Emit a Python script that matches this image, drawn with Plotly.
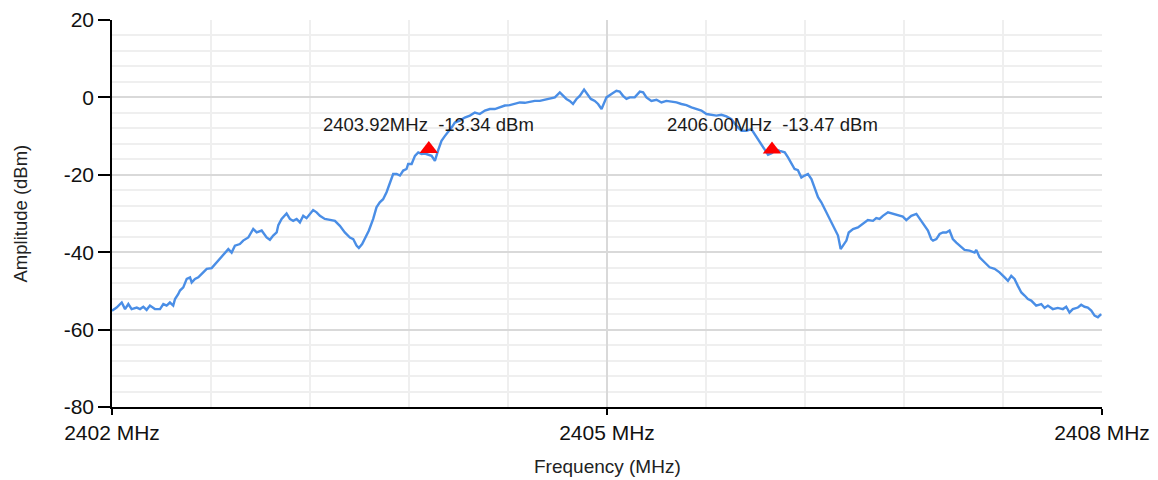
import plotly.graph_objects as go

# Spectrum sweep: frequency (MHz) and measured amplitude (dBm)
freq_mhz = [
    2402.000, 2402.028, 2402.059, 2402.079, 2402.099, 2402.119, 2402.150, 2402.170,
    2402.190, 2402.210, 2402.230, 2402.260, 2402.291, 2402.311, 2402.331, 2402.351,
    2402.371, 2402.382, 2402.402, 2402.412, 2402.432, 2402.453, 2402.473, 2402.483,
    2402.503, 2402.523, 2402.553, 2402.574, 2402.604, 2402.634, 2402.665, 2402.685,
    2402.705, 2402.725, 2402.745, 2402.775, 2402.795, 2402.826, 2402.856, 2402.877,
    2402.907, 2402.937, 2402.957, 2402.977, 2402.998, 2403.008, 2403.028, 2403.058,
    2403.078, 2403.098, 2403.119, 2403.139, 2403.159, 2403.179, 2403.199, 2403.219,
    2403.240, 2403.260, 2403.290, 2403.321, 2403.351, 2403.381, 2403.411, 2403.442,
    2403.462, 2403.482, 2403.496, 2403.516, 2403.537, 2403.557, 2403.583, 2403.603,
    2403.623, 2403.643, 2403.664, 2403.684, 2403.704, 2403.725, 2403.745, 2403.765,
    2403.785, 2403.795, 2403.816, 2403.836, 2403.856, 2403.876, 2403.896, 2403.937,
    2403.957, 2403.977, 2403.997, 2404.017, 2404.037, 2404.058, 2404.078, 2404.108,
    2404.138, 2404.169, 2404.199, 2404.229, 2404.260, 2404.290, 2404.320, 2404.350,
    2404.381, 2404.411, 2404.441, 2404.472, 2404.502, 2404.532, 2404.562, 2404.593,
    2404.623, 2404.653, 2404.684, 2404.714, 2404.734, 2404.754, 2404.774, 2404.794,
    2404.815, 2404.835, 2404.861, 2404.882, 2404.902, 2404.926, 2404.946, 2404.967,
    2404.976, 2404.997, 2405.027, 2405.057, 2405.077, 2405.097, 2405.118, 2405.138,
    2405.168, 2405.199, 2405.219, 2405.239, 2405.269, 2405.300, 2405.330, 2405.360,
    2405.391, 2405.421, 2405.451, 2405.481, 2405.512, 2405.542, 2405.572, 2405.603,
    2405.633, 2405.663, 2405.693, 2405.724, 2405.754, 2405.784, 2405.815, 2405.845,
    2405.875, 2405.895, 2405.925, 2405.956, 2405.976, 2405.998, 2406.027, 2406.047,
    2406.077, 2406.097, 2406.117, 2406.137, 2406.157, 2406.178, 2406.198, 2406.218,
    2406.239, 2406.259, 2406.279, 2406.299, 2406.319, 2406.339, 2406.360, 2406.380,
    2406.400, 2406.416, 2406.436, 2406.451, 2406.465, 2406.491, 2406.521, 2406.551,
    2406.581, 2406.612, 2406.632, 2406.652, 2406.672, 2406.703, 2406.733, 2406.763,
    2406.793, 2406.814, 2406.844, 2406.875, 2406.895, 2406.915, 2406.945, 2406.965,
    2406.976, 2406.996, 2407.016, 2407.036, 2407.056, 2407.076, 2407.096, 2407.117,
    2407.147, 2407.167, 2407.197, 2407.228, 2407.238, 2407.258, 2407.288, 2407.319,
    2407.349, 2407.379, 2407.410, 2407.430, 2407.450, 2407.470, 2407.490, 2407.511,
    2407.531, 2407.551, 2407.571, 2407.601, 2407.632, 2407.652, 2407.672, 2407.702,
    2407.732, 2407.763, 2407.783, 2407.803, 2407.823, 2407.854, 2407.874, 2407.894,
    2407.914, 2407.935, 2407.955, 2407.975, 2407.995,
]

amp_dbm = [
    -55.1, -54.3, -53.0, -54.7, -53.4, -54.7, -54.3, -54.7,
    -54.1, -54.9, -53.8, -54.7, -54.7, -53.4, -53.8, -53.0,
    -53.8, -52.1, -50.8, -49.9, -49.1, -46.9, -46.5, -47.8,
    -46.9, -46.5, -45.2, -44.3, -44.1, -42.6, -41.3, -40.1,
    -39.2, -40.1, -38.3, -37.9, -37.0, -36.2, -34.0, -34.9,
    -34.4, -36.2, -36.8, -35.7, -34.9, -33.0, -31.4, -30.0,
    -31.4, -31.9, -31.4, -32.3, -30.6, -31.2, -30.0, -29.1,
    -29.7, -30.6, -31.4, -31.7, -31.9, -33.2, -34.9, -36.2,
    -36.6, -38.3, -38.9, -37.9, -36.2, -34.4, -31.4, -28.4,
    -27.1, -26.3, -24.5, -22.4, -19.8, -19.8, -20.2, -18.9,
    -18.5, -17.2, -17.2, -15.1, -14.2, -14.6, -14.5, -15.1,
    -16.4, -13.6, -11.2, -10.0, -9.0, -7.8, -6.5, -6.0,
    -5.2, -4.7, -3.9, -4.3, -3.4, -3.0, -3.0, -2.6,
    -2.1, -2.0, -1.7, -1.3, -1.4, -1.1, -0.9, -0.9,
    -0.6, -0.4, 0.0, 1.3, 0.4, -0.4, -0.9, -1.7,
    -0.4, 0.4, 2.0, 0.9, -0.4, -0.9, -1.7, -3.0,
    -2.1, 0.0, 0.9, 1.7, 1.5, 0.4, -0.4, 0.0,
    0.0, 1.5, 1.3, 0.0, -0.9, -0.6, -1.3, -0.9,
    -1.1, -1.3, -1.7, -2.0, -2.6, -3.0, -3.4, -4.3,
    -4.5, -4.7, -4.5, -4.9, -5.6, -7.3, -8.6, -8.6,
    -8.2, -9.5, -11.6, -13.8, -14.8, -14.4, -13.5, -13.8,
    -14.2, -15.5, -17.2, -18.5, -18.8, -20.7, -20.2, -19.8,
    -21.1, -23.7, -25.8, -27.1, -28.8, -30.6, -32.3, -34.4,
    -35.7, -39.2, -37.9, -37.0, -34.9, -34.0, -33.6, -32.7,
    -31.7, -31.9, -31.2, -31.4, -30.6, -29.7, -30.1, -30.6,
    -30.8, -31.7, -30.6, -30.1, -31.4, -32.7, -34.4, -36.6,
    -37.0, -36.6, -35.3, -34.9, -34.9, -34.4, -36.6, -37.5,
    -38.8, -39.4, -39.6, -40.1, -39.4, -41.3, -42.6, -43.9,
    -44.3, -45.2, -46.5, -47.4, -46.1, -46.9, -48.7, -50.4,
    -51.2, -52.1, -52.5, -53.8, -53.4, -54.4, -53.8, -54.7,
    -54.4, -54.7, -54.1, -55.6, -54.7, -54.3, -53.6, -54.1,
    -54.3, -55.1, -56.4, -56.8, -56.0,
]

# Marker readouts (-3 dB points)
marker_freq = [2403.92, 2406.00]
marker_amp = [-13.34, -13.47]

x_tick_vals = [2402, 2405, 2408]
x_tick_text = ["2402 MHz", "2405 MHz", "2408 MHz"]
y_tick_vals = [-80, -60, -40, -20, 0, 20]
y_tick_text = ["-80", "-60", "-40", "-20", "0", "20"]

FONT = "Liberation Sans, Arial, sans-serif"

fig = go.Figure()

fig.add_trace(go.Scatter(
    x=freq_mhz, y=amp_dbm, mode="lines",
    line=dict(color="#4a8ee6", width=2.4),
    hoverinfo="x+y", showlegend=False,
))

fig.add_trace(go.Scatter(
    x=marker_freq, y=marker_amp, mode="markers",
    marker=dict(symbol="triangle-up", size=16, color="#ff0000",
                line=dict(width=0)),
    showlegend=False,
))

annotations = []
for f, a in zip(marker_freq, marker_amp):
    annotations.append(dict(
        x=f, y=a, xref="x", yref="y",
        text=f"{f:.2f}MHz \u00a0{a:.2f} dBm",
        showarrow=False, xanchor="center", yanchor="middle", yshift=25,
        font=dict(family=FONT, size=18.5, color="#1a1a1a"),
    ))

annotations.append(dict(
    x=0.5, y=0, xref="paper", yref="paper", text="Frequency (MHz)",
    showarrow=False, xanchor="center", yanchor="middle", yshift=-59,
    font=dict(family=FONT, size=19, color="#222222"),
))
annotations.append(dict(
    x=0, y=0.5, xref="paper", yref="paper", text="Amplitude (dBm)",
    showarrow=False, xanchor="center", yanchor="middle", xshift=-92,
    textangle=-90,
    font=dict(family=FONT, size=18.5, color="#222222"),
))

fig.update_layout(
    width=1158, height=480, autosize=False,
    margin=dict(l=112, r=56, t=20, b=73, pad=0),
    paper_bgcolor="white", plot_bgcolor="white",
    annotations=annotations,
    xaxis=dict(
        range=[2402, 2408], tickvals=x_tick_vals, ticktext=x_tick_text,
        showline=True, linecolor="black", linewidth=1.5,
        ticks="outside", ticklen=6, tickcolor="black", tickwidth=1.5,
        showgrid=True, gridcolor="#d9d9d9", gridwidth=1.5,
        minor=dict(dtick=0.6, tick0=2402, showgrid=True,
                   gridcolor="#efefef", gridwidth=1.5, ticks=""),
        tickfont=dict(family=FONT, size=21, color="#111111"),
        zeroline=False, fixedrange=True, automargin=False,
    ),
    yaxis=dict(
        range=[-80, 20], tickvals=y_tick_vals, ticktext=y_tick_text,
        showline=True, linecolor="black", linewidth=1.5,
        ticks="outside", ticklen=12, tickcolor="black", tickwidth=1.5,
        showgrid=True, gridcolor="#d9d9d9", gridwidth=1.5,
        minor=dict(dtick=4, tick0=-80, showgrid=True,
                   gridcolor="#efefef", gridwidth=1.5, ticks=""),
        tickfont=dict(family=FONT, size=21, color="#111111"),
        zeroline=False, fixedrange=True, automargin=False,
    ),
)

fig.write_html("out.html")
